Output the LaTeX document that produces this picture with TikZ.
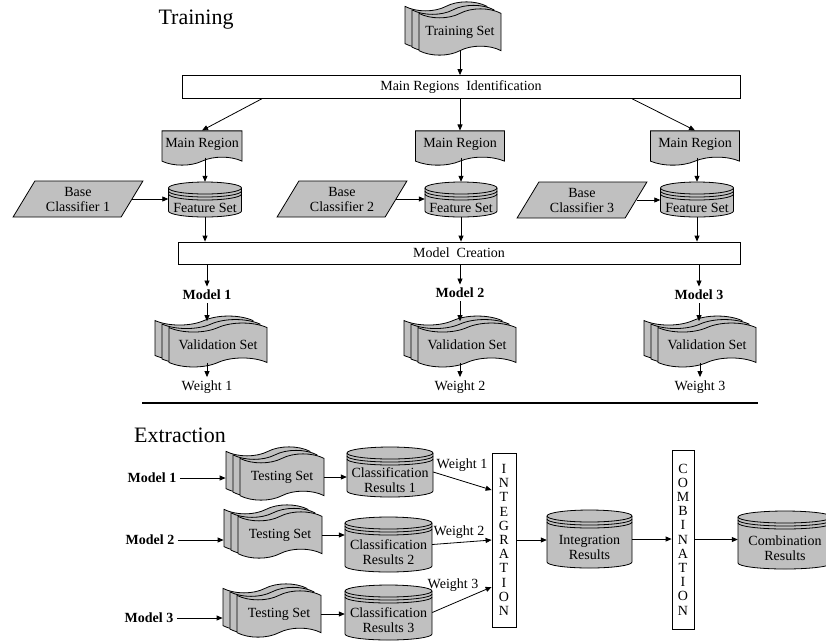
\documentclass[tikz,border=0pt]{standalone}
\usepackage{fontspec}
\setmainfont{Liberation Serif}
\usetikzlibrary{shapes.geometric,shapes.symbols,shadows,arrows.meta,calc}

\definecolor{docgray}{RGB}{192,192,192}

\tikzset{
	flow/.style={-{Triangle[length=6pt,width=5pt]}, line width=0.8pt},
	plainbox/.style={draw, line width=0.8pt, fill=white, inner sep=0pt},
	regionbox/.style={tape, tape bend top=none, tape bend bottom=in and out, tape bend height=8pt, draw, line width=0.8pt, fill=docgray, inner xsep=1pt, inner ysep=7pt},
	setstack/.style={tape, tape bend height=9pt, draw, line width=0.8pt, fill=docgray, inner xsep=1pt, inner ysep=8pt,
		copy shadow={shadow xshift=-14pt, shadow yshift=7pt, fill=docgray, line width=0.8pt},
		copy shadow={shadow xshift=-7pt, shadow yshift=3.5pt, fill=docgray, line width=0.8pt}},
	basebox/.style={trapezium, trapezium left angle=60, trapezium right angle=120, trapezium stretches=true, draw, line width=0.8pt, fill=docgray, minimum width=130pt, minimum height=36pt, align=center},
	dbshape/.style={draw, line width=0.8pt, fill=docgray},
	dbtext/.style={align=center},
	modellabel/.style={font=\fontsize{14}{16}\selectfont\bfseries},
	vertbox/.style={draw, line width=0.8pt, align=center, inner sep=0pt, font=\fontsize{14}{14.2}\selectfont},
	title/.style={font=\fontsize{22}{26}\selectfont}
}

% database drum: name, x, y, width, height, text
\newcommand{\database}[6]{%
	\filldraw[dbshape] (#2-#4/2,#3+#5/2-6) -- (#2-#4/2,#3-#5/2+6)
		arc[start angle=180, end angle=360, x radius=#4/2, y radius=6]
		-- (#2+#4/2,#3+#5/2-6)
		arc[start angle=0, end angle=180, x radius=#4/2, y radius=6] -- cycle;
	\foreach \ringy in {0,3,6}
		\draw[line width=0.8pt] (#2-#4/2,#3+#5/2-6-\ringy) arc[start angle=180, end angle=360, x radius=#4/2, y radius=6];
	\node[inner sep=0pt, minimum width=#4pt, minimum height=#5pt] (#1) at (#2,#3) {};
	\node[dbtext] (#1text) at ($(#1)+(0,-8)$) {#6};
}

\begin{document}
\begin{tikzpicture}[x=1pt, y=1pt, font=\fontsize{14}{15}\selectfont]
	\useasboundingbox (0,0) rectangle (826,-641);

	% training
	\node[title] (traintitle) at (196,-20) {Training};
	\node[setstack, minimum width=82pt] (tset) at (460,-32) {Training Set};
	\node[plainbox, minimum width=558pt, minimum height=23pt] (mri) at (461,-87) {Main Regions~ Identification};

	\node[regionbox, minimum width=80pt] (mr1) at (202,-144) {Main Region};
	\node[regionbox, minimum width=89pt] (mr2) at (460,-144) {Main Region};
	\node[regionbox, minimum width=89pt] (mr3) at (695,-144) {Main Region};

	\database{fs1}{205}{-199.5}{73}{35}{Feature Set}
	\database{fs2}{461}{-199.5}{72}{35}{Feature Set}
	\database{fs3}{697}{-199.5}{73}{35}{Feature Set}

	\node[basebox] (bc1) at (78,-199) {Base\\Classifier 1};
	\node[basebox] (bc2) at (342,-199) {Base\\Classifier 2};
	\node[basebox] (bc3) at (582,-200) {Base\\Classifier 3};

	\node[plainbox, minimum width=562pt, minimum height=22pt] (mc) at (459,-253) {Model~ Creation};

	\node[modellabel] (m1) at (207,-295) {Model 1};
	\node[modellabel] (m2) at (460,-293) {Model 2};
	\node[modellabel] (m3) at (699,-295) {Model 3};

	\node[setstack, minimum width=98pt] (vs1) at (218,-345) {Validation Set};
	\node[setstack, minimum width=98pt] (vs2) at (467,-345) {Validation Set};
	\node[setstack, minimum width=98pt] (vs3) at (707,-345) {Validation Set};

	\node (w1) at (207,-387) {Weight 1};
	\node (w2) at (460,-387) {Weight 2};
	\node (w3) at (700,-387) {Weight 3};

	\draw[flow] (tset.south) -- (tset.south |- mri.north);
	\draw[flow] ([xshift=80pt]mri.south west) -- (mr1.north);
	\draw[flow] (mr2.north |- mri.south) -- (mr2.north);
	\draw[flow] ([xshift=-108pt]mri.south east) -- (mr3.north);
	\foreach \col in {1,2,3} {
		\draw[flow] (fs\col |- mr\col.south) -- (fs\col.north);
		\draw[flow] (bc\col.east) -- (bc\col.east -| fs\col.west);
		\draw[flow] (fs\col.south) -- (fs\col.south |- mc.north);
		\draw[flow] (m\col |- mc.south) -- (m\col.north);
		\draw[flow] (m\col.south) -- ($(m\col |- vs\col.north)+(0,6)$);
		\draw[flow] (w\col |- vs\col.south) -- (w\col.north);
	}

	\draw[line width=2pt] (142,-403) -- (758,-403);

	% extraction
	\node[title] (extracttitle) at (180,-435) {Extraction};

	\node[modellabel] (xm1) at (152,-478) {Model 1};
	\node[modellabel] (xm2) at (150,-540) {Model 2};
	\node[modellabel] (xm3) at (149,-618) {Model 3};

	\node[setstack, minimum width=84pt] (ts1) at (282,-477) {Testing Set};
	\node[setstack, minimum width=84pt] (ts2) at (280,-535) {Testing Set};
	\node[setstack, minimum width=84pt] (ts3) at (279,-614) {Testing Set};

	\database{cr1}{390}{-472}{86}{50}{Classification\\Results 1}
	\database{cr2}{388.5}{-544.5}{87}{55}{Classification\\Results 2}
	\database{cr3}{388.5}{-612.5}{87}{55}{Classification\\Results 3}

	\node[vertbox, minimum width=24pt, minimum height=174pt] (integ) at (504,-540) {I\\N\\T\\E\\G\\R\\A\\T\\I\\O\\N};
	\database{ir}{589.5}{-539}{85}{58}{Integration\\Results}
	\node[vertbox, minimum width=22pt, minimum height=179pt] (comb) at (683,-539.5) {C\\O\\M\\B\\I\\N\\A\\T\\I\\O\\N};
	\database{cres}{785}{-540}{94}{58}{Combination\\Results}

	\node (ew1) at (462,-465) {Weight 1};
	\node (ew2) at (459,-532) {Weight 2};
	\node (ew3) at (453,-585) {Weight 3};

	\foreach \row in {1,2,3} {
		\draw[flow] (xm\row.east) -- ($(xm\row -| ts\row.west)+(-14,0)$);
		\draw[flow] (ts\row.east) -- (ts\row.east -| cr\row.west);
	}
	\draw[flow] (cr1.east) -- ([yshift=50pt]integ.west);
	\draw[flow] (cr2.east) -- (integ.west);
	\draw[flow] (cr3.east) -- ([yshift=-47pt]integ.west);
	\draw[flow] (integ.east) -- (integ.east -| ir.west);
	\draw[flow] (ir.east) -- (ir.east -| comb.west);
	\draw[flow] (comb.east) -- (comb.east -| cres.west);
\end{tikzpicture}
\end{document}
